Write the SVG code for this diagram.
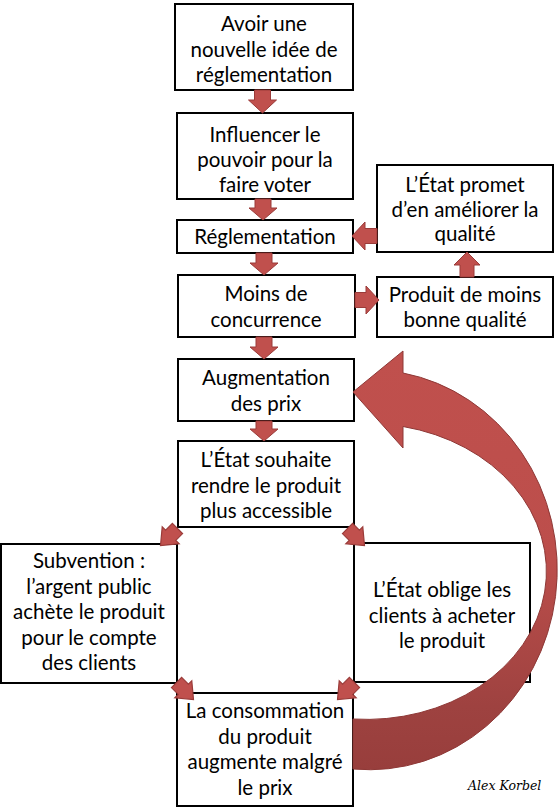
<svg xmlns="http://www.w3.org/2000/svg" width="558" height="812" viewBox="0 0 558 812">
<style>
.box{fill:#fff;stroke:#000;stroke-width:2}
.t{font-family:Lato,"Open Sans","DejaVu Sans",sans-serif;font-size:20.5px;fill:#000;text-anchor:middle}
.ar{fill:#C0504D;stroke:#9A3B39;stroke-width:1}
.sig{font-family:"DejaVu Serif",serif;font-style:italic;font-size:12.5px;fill:#000}
</style>
<defs>
<linearGradient id="cg" gradientUnits="userSpaceOnUse" x1="0" y1="350" x2="0" y2="770">
<stop offset="0" stop-color="#C0504D"/>
<stop offset="0.5" stop-color="#BC4E4B"/>
<stop offset="0.85" stop-color="#9E4240"/>
<stop offset="1" stop-color="#983E3C"/>
</linearGradient>
<path id="da" d="M-6,-10 L6,-10 L6,-2 L10,-2 L0,10 L-10,-2 L-6,-2 Z"/>
</defs>
<rect width="558" height="812" fill="#fff"/>
<g id="n1"><rect class="box" x="175" y="4" width="178" height="86"/>
<text class="t" x="264" y="31">Avoir une</text><text class="t" x="264" y="56.5">nouvelle idée de</text><text class="t" x="264" y="82">réglementation</text></g>
<g id="n2"><rect class="box" x="177" y="113" width="176" height="86"/>
<text class="t" x="265" y="142">Influencer le</text><text class="t" x="265" y="167">pouvoir pour la</text><text class="t" x="265" y="192">faire voter</text></g>
<g id="n3"><rect class="box" x="177" y="220" width="176" height="33"/>
<text class="t" x="265" y="243.5">Réglementation</text></g>
<g id="n4"><rect class="box" x="178" y="275" width="177" height="62"/>
<text class="t" x="266" y="300.5">Moins de</text><text class="t" x="266" y="326.5">concurrence</text></g>
<g id="n5"><rect class="box" x="178" y="359" width="176" height="62"/>
<text class="t" x="266" y="384.5">Augmentation</text><text class="t" x="266" y="410.5">des prix</text></g>
<g id="n6"><rect class="box" x="178" y="441" width="176" height="86"/>
<text class="t" x="266" y="467">L’État souhaite</text><text class="t" x="266" y="492.5">rendre le produit</text><text class="t" x="266" y="518">plus accessible</text></g>
<g id="n7"><rect class="box" x="1" y="544" width="176" height="139"/>
<text class="t" x="89" y="568">Subvention :</text><text class="t" x="89" y="593.5">l’argent public</text><text class="t" x="89" y="619">achète le produit</text><text class="t" x="89" y="644.5">pour le compte</text><text class="t" x="89" y="670">des clients</text></g>
<g id="n8"><rect class="box" x="354" y="543" width="176" height="139"/>
<text class="t" x="442" y="597">L’État oblige les</text><text class="t" x="442" y="622.5">clients à acheter</text><text class="t" x="442" y="648">le produit</text></g>
<g id="n9"><rect class="box" x="177" y="693" width="176" height="113"/>
<text class="t" x="265" y="718">La consommation</text><text class="t" x="265" y="743.5">du produit</text><text class="t" x="265" y="769">augmente malgré</text><text class="t" x="265" y="794.5">le prix</text></g>
<g id="n10"><rect class="box" x="377" y="165" width="176" height="87"/>
<text class="t" x="465" y="192">L’État promet</text><text class="t" x="465" y="216.5">d’en améliorer la</text><text class="t" x="465" y="241">qualité</text></g>
<g id="n11"><rect class="box" x="377" y="277" width="176" height="60"/>
<text class="t" x="465" y="302">Produit de moins</text><text class="t" x="465" y="327">bonne qualité</text></g>
<text class="sig" x="468" y="790">Alex Korbel</text>
<g id="connectors">
<polygon class="ar" points="254.5,90 270.5,90 270.5,100 276.5,100 262.5,113 248.5,100 254.5,100"/>
<polygon class="ar" points="255,199 271,199 271,208 277,208 263,220 249,208 255,208"/>
<polygon class="ar" points="256,253 272,253 272,263 278,263 264,275 250,263 256,263"/>
<polygon class="ar" points="256,337 272,337 272,347 278,347 264,359 250,347 256,347"/>
<polygon class="ar" points="256,421 272,421 272,429 278,429 264,441 250,429 256,429"/>
<polygon class="ar" points="377,228.5 377,243.5 365,243.5 365,250 352,236 365,222 365,228.5"/>
<polygon class="ar" points="355,292.5 355,307.5 366,307.5 366,314 379,300 366,286 366,292.5"/>
<polygon class="ar" points="460,277 474,277 474,265 480,265 467,252 454,265 460,265"/>
<use class="ar" href="#da" transform="translate(169,537) rotate(45) scale(1.2)"/>
<use class="ar" href="#da" transform="translate(356,537) rotate(-45) scale(1.2)"/>
<use class="ar" href="#da" transform="translate(185,691) rotate(-45) scale(1.2)"/>
<use class="ar" href="#da" transform="translate(346,691) rotate(45) scale(1.2)"/>
<path fill="url(#cg)" stroke="#8E3836" stroke-width="1" d="M403,373 A188,200 0 0 1 353,769 L353,719 A180,148 0 0 0 403,426.5 L403,448 L353,392 L403,351 Z"/>
</g>
</svg>
